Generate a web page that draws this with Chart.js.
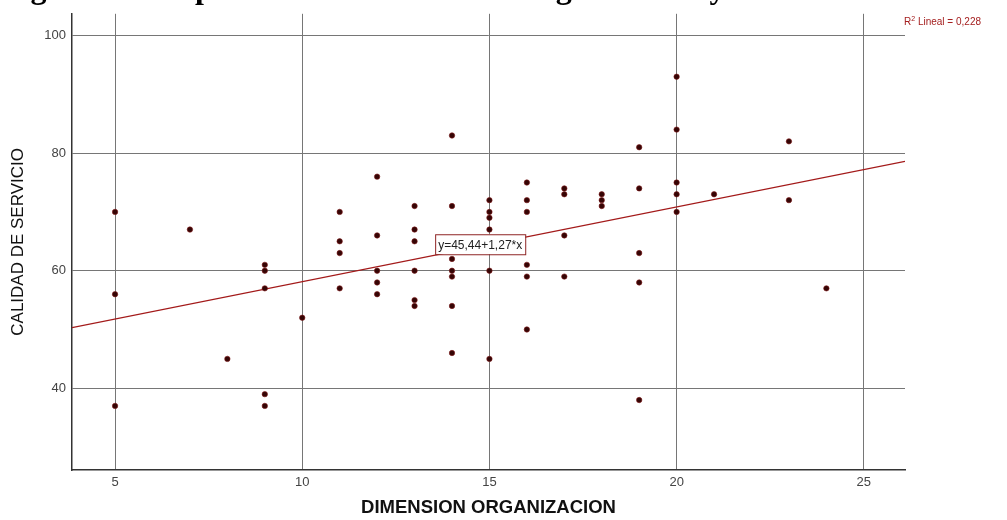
<!DOCTYPE html>
<html>
<head>
<meta charset="utf-8">
<script src="https://cdn.jsdelivr.net/npm/chart.js@4/dist/chart.umd.min.js"></script>
<style>
  html, body { margin: 0; padding: 0; background: #fff; }
  #wrap { width: 1007px; height: 520px; position: relative; }
</style>
</head>
<body>
<div id="wrap"><canvas id="myChart"></canvas></div>
<script>
// data
const orgX = [5,5,5, 7, 8, 9,9,9,9,9, 10, 11,11,11,11, 12,12,12,12,12, 13,13,13,13,13,13,
  14,14,14,14,14,14,14, 15,15,15,15,15,15, 16,16,16,16,16,16, 17,17,17,17, 18,18,18,
  19,19,19,19,19, 20,20,20,20,20, 21, 23,23, 24];
const calidadY = [70,56,37, 67, 45, 61,60,57,39,37, 52, 70,65,63,57, 76,66,60,58,56, 71,67,65,60,55,54,
  83,71,62,60,59,54,46, 72,70,69,67,60,45, 75,72,70,61,59,50, 74,73,66,59, 73,72,71,
  81,74,63,58,38, 93,84,75,73,70, 73, 82,72, 57];

const xTicks = [5, 10, 15, 20, 25];
const yTicks = [40, 60, 80, 100];
const xRange = [3.85, 26.1];
const yRange = [26.1, 103.7];

const fitIntercept = 45.44;
const fitSlope = 1.27;
const fitLabel = "y=45,44+1,27*x";
const fitLabelPos = [13.55, 64.5];   // left edge / middle of the box, in data units
const r2Text = "0,228";
const titleText = "Figura 10. Dispersión de la dimensión organización y calidad de servicio";

const points = orgX.map((x, i) => ({ x: x, y: calidadY[i] }));
const fitLine = xRange.map(x => ({ x: x, y: fitIntercept + fitSlope * x }));

const extras = {
  id: "extras",
  afterDatasetsDraw(chart) {
    const ctx = chart.ctx;
    const xs = chart.scales.x, ys = chart.scales.y;
    ctx.save();
    // equation box
    ctx.font = "12px Arial, 'Liberation Sans'";
    const bx = xs.getPixelForValue(fitLabelPos[0]);
    const by = ys.getPixelForValue(fitLabelPos[1]);
    const tw = ctx.measureText(fitLabel).width;
    const bw = tw + 6, bh = 20;
    ctx.fillStyle = "#fff";
    ctx.fillRect(bx, by - bh / 2, bw, bh);
    ctx.strokeStyle = "#8e2424";
    ctx.lineWidth = 1;
    ctx.strokeRect(bx + 0.5, by - bh / 2 + 0.5, bw, bh);
    ctx.fillStyle = "#222";
    ctx.textBaseline = "middle";
    ctx.fillText(fitLabel, bx + 3, by + 1);

    // R2 label
    const rx = chart.chartArea.right - 1, ry = 25;
    ctx.fillStyle = "#a52020";
    ctx.textBaseline = "alphabetic";
    ctx.font = "10px Arial, 'Liberation Sans'";
    ctx.fillText("R", rx, ry);
    let w = ctx.measureText("R").width;
    ctx.font = "7px Arial, 'Liberation Sans'";
    ctx.fillText("2", rx + w, ry - 4);
    w += ctx.measureText("2").width;
    ctx.font = "10px Arial, 'Liberation Sans'";
    ctx.fillText(" Lineal = " + r2Text, rx + w, ry);

    // title, mostly above the visible area
    ctx.fillStyle = "#000";
    ctx.font = "bold 32px 'Liberation Serif', 'Times New Roman', serif";
    ctx.fillText(titleText, 2, -2);
    ctx.restore();
  }
};

const config = {
  type: "scatter",
  data: {
    datasets: [
      {
        type: "line",
        data: fitLine,
        borderColor: "#a31a1a",
        borderWidth: 1.2,
        pointRadius: 0,
        fill: false,
        order: 2
      },
      {
        data: points,
        backgroundColor: "#350505",
        borderColor: "#7e1616",
        borderWidth: 0.6,
        pointRadius: 2.7,
        order: 1
      }
    ]
  },
  options: {
    responsive: true,
    maintainAspectRatio: false,
    animation: false,
    events: [],
    layout: { padding: { left: 0, top: 7, right: 102, bottom: 0 } },
    plugins: { legend: { display: false }, tooltip: { enabled: false } },
    scales: {
      x: {
        type: "linear",
        min: xRange[0],
        max: xRange[1],
        afterBuildTicks: s => { s.ticks = xTicks.map(v => ({ value: v })); },
        afterFit: s => { s.height = 50; },
        grid: { color: "#767676", lineWidth: 1, drawTicks: false },
        border: { color: "#333", width: 1.5 },
        ticks: { color: "#444", font: { size: 13, family: "Arial, 'Liberation Sans'" }, padding: 5 },
        title: {
          display: true,
          text: "DIMENSION ORGANIZACION",
          color: "#111",
          font: { size: 18.5, weight: "bold", family: "Arial, 'Liberation Sans'" },
          padding: { top: 0, bottom: 1 }
        }
      },
      y: {
        type: "linear",
        min: yRange[0],
        max: yRange[1],
        afterBuildTicks: s => { s.ticks = yTicks.map(v => ({ value: v })); },
        afterFit: s => { s.width = 72; },
        grid: { color: "#767676", lineWidth: 1, drawTicks: false },
        border: { color: "#333", width: 1.5 },
        ticks: { color: "#444", font: { size: 13, family: "Arial, 'Liberation Sans'" }, padding: 6 },
        title: {
          display: true,
          text: "CALIDAD DE SERVICIO",
          color: "#111",
          font: { size: 17, family: "Arial, 'Liberation Sans'" },
          padding: { top: 8, bottom: 0 }
        }
      }
    }
  },
  plugins: [extras]
};

const myChart = new Chart(document.getElementById("myChart"), config);
</script>
</body>
</html>
